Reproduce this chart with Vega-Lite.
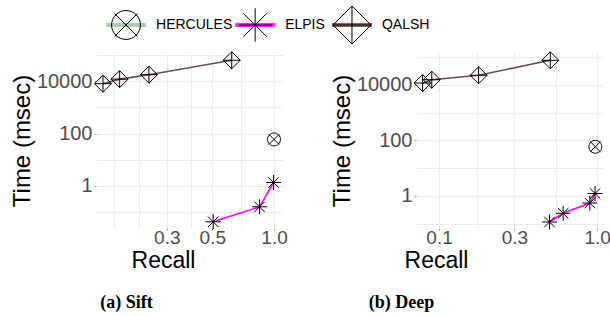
{
  "$schema": "https://vega.github.io/schema/vega-lite/v6.json",
  "background": "white",
  "padding": {"left": 10, "top": 4, "right": 0, "bottom": 0},
  "bounds": "flush",
  "spacing": 8,
  "data": {
    "values": [
      {"panel": "Sift", "method": "QALSH", "recall": 0.1466, "time": 8000},
      {"panel": "Sift", "method": "QALSH", "recall": 0.1767, "time": 12000},
      {"panel": "Sift", "method": "QALSH", "recall": 0.2455, "time": 17700},
      {"panel": "Sift", "method": "QALSH", "recall": 0.622, "time": 63000},
      {"panel": "Sift", "method": "ELPIS", "recall": 0.505, "time": 0.043},
      {"panel": "Sift", "method": "ELPIS", "recall": 0.85, "time": 0.16},
      {"panel": "Sift", "method": "ELPIS", "recall": 0.995, "time": 1.36},
      {"panel": "Sift", "method": "HERCULES", "recall": 1.0, "time": 60},
      {"panel": "Deep", "method": "QALSH", "recall": 0.0787, "time": 11600},
      {"panel": "Deep", "method": "QALSH", "recall": 0.09, "time": 15200},
      {"panel": "Deep", "method": "QALSH", "recall": 0.178, "time": 21900},
      {"panel": "Deep", "method": "QALSH", "recall": 0.506, "time": 76000},
      {"panel": "Deep", "method": "ELPIS", "recall": 0.5, "time": 0.116},
      {"panel": "Deep", "method": "ELPIS", "recall": 0.61, "time": 0.239},
      {"panel": "Deep", "method": "ELPIS", "recall": 0.9, "time": 0.56},
      {"panel": "Deep", "method": "ELPIS", "recall": 0.971, "time": 1.23},
      {"panel": "Deep", "method": "HERCULES", "recall": 0.975, "time": 59}
    ]
  },
  "vconcat": [
    {
      "width": 286,
      "height": 40,
      "data": {"values": [{"method": "HERCULES"}, {"method": "ELPIS"}, {"method": "QALSH"}]},
      "encoding": {
        "x": {
          "field": "method",
          "type": "nominal",
          "scale": {"type": "point", "domain": ["HERCULES", "s1", "s2", "s3", "ELPIS", "s4", "s5", "QALSH"], "padding": 0.93},
          "axis": null
        }
      },
      "layer": [
        {
          "mark": {"type": "tick", "orient": "horizontal", "size": 40, "thickness": 4, "opacity": 0.85},
          "encoding": {
            "color": {"field": "method", "type": "nominal", "scale": {"domain": ["HERCULES", "ELPIS", "QALSH"], "range": ["#a3c2a5", "#ff00ff", "#6b4a4a"]}, "legend": null}
          }
        },
        {
          "mark": {"type": "point", "filled": false, "stroke": "black", "strokeWidth": 1, "size": 1444, "opacity": 1},
          "encoding": {
            "shape": {"field": "method", "type": "nominal", "scale": {"domain": ["HERCULES", "ELPIS", "QALSH"], "range": ["M0.76,0A0.76,0.76,0,1,1,-0.76,0A0.76,0.76,0,1,1,0.76,0Z M-0.6,-0.6L0.6,0.6 M-0.6,0.6L0.6,-0.6", "M-0.88,0L0.88,0 M0,-0.88L0,0.88 M-0.62,-0.62L0.62,0.62 M-0.62,0.62L0.62,-0.62", "M0,-1L1,0L0,1L-1,0Z M-1,0L1,0 M0,-1L0,1"]}, "legend": null}
          }
        },
        {
          "mark": {"type": "text", "align": "left", "baseline": "middle", "dx": 30, "font": "Liberation Sans", "fontSize": 14, "color": "black"},
          "encoding": {"text": {"field": "method"}}
        }
      ]
    },
    {
      "bounds": "flush",
      "spacing": 133,
      "hconcat": [
        {
          "width": 187,
          "height": 175,
          "title": {"text": "(a) Sift", "orient": "bottom", "font": "Liberation Serif", "fontSize": 18, "fontWeight": "bold", "color": "black", "dx": -63, "offset": 22},
          "transform": [{"filter": "datum.panel == 'Sift'"}],
          "encoding": {
            "x": {
              "field": "recall", "type": "quantitative",
              "scale": {"type": "log", "domain": [0.1355, 1.106], "nice": false},
              "axis": {"title": "Recall", "titleX": 67, "values": [0.166, 0.22, 0.3, 0.394, 0.5, 0.69, 1.0], "labelExpr": "indexof([0.3, 0.5, 1], datum.value) >= 0 ? format(datum.value, '.1f') : ''", "tickOpacity": {"condition": {"test": "indexof([0.3, 0.5, 1], datum.value) >= 0", "value": 1}, "value": 0}}
            },
            "y": {
              "field": "time", "type": "quantitative",
              "scale": {"type": "log", "domain": [0.0249, 119000], "nice": false},
              "axis": {"title": "Time (msec)", "values": [0.1, 1, 10, 100, 1000, 10000, 100000], "labelExpr": "indexof([1, 100, 10000], datum.value) >= 0 ? format(datum.value, 'd') : ''", "tickOpacity": {"condition": {"test": "indexof([1, 100, 10000], datum.value) >= 0", "value": 1}, "value": 0}}
            }
          },
          "layer": [
            {
              "mark": {"type": "line", "strokeWidth": 1.6},
              "encoding": {"color": {"field": "method", "type": "nominal", "scale": {"domain": ["HERCULES", "ELPIS", "QALSH"], "range": ["#a3c2a5", "#ff00ff", "#6b4a4a"]}, "legend": null}}
            },
            {
              "mark": {"type": "point", "filled": false, "stroke": "black", "strokeWidth": 1, "size": 289, "opacity": 1},
              "encoding": {"shape": {"field": "method", "type": "nominal", "scale": {"domain": ["HERCULES", "ELPIS", "QALSH"], "range": ["M0.76,0A0.76,0.76,0,1,1,-0.76,0A0.76,0.76,0,1,1,0.76,0Z M-0.6,-0.6L0.6,0.6 M-0.6,0.6L0.6,-0.6", "M-0.88,0L0.88,0 M0,-0.88L0,0.88 M-0.62,-0.62L0.62,0.62 M-0.62,0.62L0.62,-0.62", "M0,-1L1,0L0,1L-1,0Z M-1,0L1,0 M0,-1L0,1"]}, "legend": null}}
            }
          ]
        },
        {
          "width": 187,
          "height": 175,
          "title": {"text": "(b) Deep", "orient": "bottom", "font": "Liberation Serif", "fontSize": 18, "fontWeight": "bold", "color": "black", "dx": -108, "offset": 22},
          "transform": [{"filter": "datum.panel == 'Deep'"}],
          "encoding": {
            "x": {
              "field": "recall", "type": "quantitative",
              "scale": {"type": "log", "domain": [0.0715, 1.09], "nice": false},
              "axis": {"title": "Recall", "titleX": 20, "values": [0.1, 0.173, 0.3, 0.548, 1.0], "labelExpr": "indexof([0.1, 0.3, 1], datum.value) >= 0 ? format(datum.value, '.1f') : ''", "tickOpacity": {"condition": {"test": "indexof([0.1, 0.3, 1], datum.value) >= 0", "value": 1}, "value": 0}}
            },
            "y": {
              "field": "time", "type": "quantitative",
              "scale": {"type": "log", "domain": [0.0706, 139000], "nice": false},
              "axis": {"title": "Time (msec)", "values": [0.1, 1, 10, 100, 1000, 10000, 100000], "labelExpr": "indexof([1, 100, 10000], datum.value) >= 0 ? format(datum.value, 'd') : ''", "tickOpacity": {"condition": {"test": "indexof([1, 100, 10000], datum.value) >= 0", "value": 1}, "value": 0}}
            }
          },
          "layer": [
            {
              "mark": {"type": "line", "strokeWidth": 1.6},
              "encoding": {"color": {"field": "method", "type": "nominal", "scale": {"domain": ["HERCULES", "ELPIS", "QALSH"], "range": ["#a3c2a5", "#ff00ff", "#6b4a4a"]}, "legend": null}}
            },
            {
              "mark": {"type": "point", "filled": false, "stroke": "black", "strokeWidth": 1, "size": 289, "opacity": 1},
              "encoding": {"shape": {"field": "method", "type": "nominal", "scale": {"domain": ["HERCULES", "ELPIS", "QALSH"], "range": ["M0.76,0A0.76,0.76,0,1,1,-0.76,0A0.76,0.76,0,1,1,0.76,0Z M-0.6,-0.6L0.6,0.6 M-0.6,0.6L0.6,-0.6", "M-0.88,0L0.88,0 M0,-0.88L0,0.88 M-0.62,-0.62L0.62,0.62 M-0.62,0.62L0.62,-0.62", "M0,-1L1,0L0,1L-1,0Z M-1,0L1,0 M0,-1L0,1"]}, "legend": null}}
            }
          ]
        }
      ]
    }
  ],
  "config": {
    "view": {"stroke": null},
    "axis": {
      "domain": false,
      "grid": true,
      "gridColor": "#EBEBEB",
      "gridWidth": 1,
      "tickSize": 2,
      "tickColor": "#9a9a9a",
      "labelColor": "#4D4D4D",
      "labelFont": "Liberation Sans",
      "titleFont": "Liberation Sans",
      "titleFontWeight": "normal",
      "titleColor": "black"
    },
    "axisX": {"labelFontSize": 19, "labelPadding": -2, "titleFontSize": 23, "titlePadding": 2},
    "axisY": {"labelFontSize": 20, "labelPadding": 2, "titleFontSize": 24, "titlePadding": 2}
  }
}
